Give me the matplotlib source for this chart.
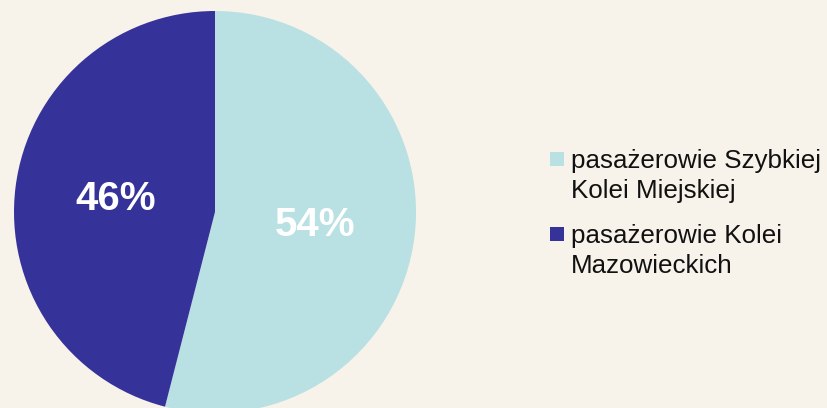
import matplotlib
matplotlib.use('Agg')
import matplotlib.pyplot as plt
from matplotlib.patches import Rectangle

# data
labels = ['pasażerowie Szybkiej\nKolei Miejskiej', 'pasażerowie Kolei\nMazowieckich']
shares = [54, 46]
colors = ['#b9e0e3', '#35339a']

plt.rcParams['font.family'] = ['Liberation Sans', 'DejaVu Sans']

fig = plt.figure(figsize=(8.28, 4.08), dpi=100)
fig.patch.set_facecolor('#f7f2ea')

# pie axes: centre ~ (215, 212) px, radius ~201 px
ax = fig.add_axes([14 / 828, -5 / 408, 402 / 828, 402 / 408])
ax.set_facecolor('none')
wedges, texts, autotexts = ax.pie(shares, colors=colors, startangle=90, counterclock=False,
                                  radius=1.0, autopct='%1.0f%%', pctdistance=0.5,
                                  wedgeprops=dict(linewidth=0))
for t in autotexts:
    t.set_color('white')
    t.set_fontsize(29)
    t.set_fontweight('bold')
ax.set_xlim(-1, 1)
ax.set_ylim(-1, 1)
ax.set_aspect('equal')
ax.axis('off')

# legend, drawn by hand so the square sits on the first line
W, H = 828.0, 408.0
top_y = [152, 227]
for lab, col, y in zip(labels, colors, top_y):
    fig.patches.append(Rectangle((550 / W, 1 - (y + 14) / H), 14 / W, 14 / H,
                                 transform=fig.transFigure, facecolor=col, edgecolor='none'))
    fig.text(571 / W, 1 - (y - 3) / H, lab, fontsize=18.7, color='#111111',
             ha='left', va='top', linespacing=1.3)

fig.savefig('out.png', dpi=100, facecolor=fig.get_facecolor())
